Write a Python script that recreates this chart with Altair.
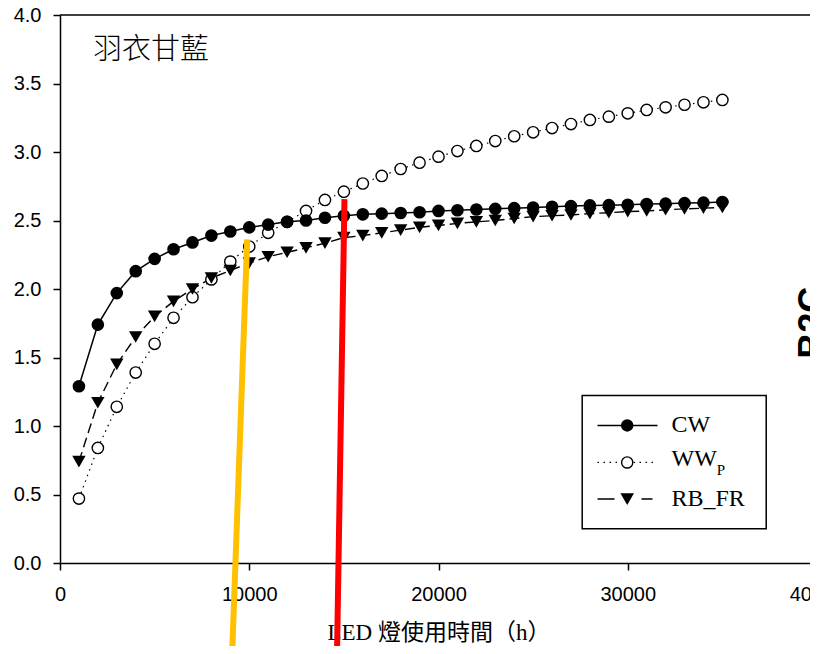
import altair as alt
import pandas as pd

# ---- data ----
hours = [1000, 2000, 3000, 4000, 5000, 6000, 7000, 8000, 9000, 10000,
         11000, 12000, 13000, 14000, 15000, 16000, 17000, 18000, 19000, 20000,
         21000, 22000, 23000, 24000, 25000, 26000, 27000, 28000, 29000, 30000,
         31000, 32000, 33000, 34000, 35000]
cw = [1.29, 1.74, 1.97, 2.13, 2.22, 2.29, 2.34, 2.39, 2.42, 2.45,
      2.47, 2.49, 2.50, 2.52, 2.535, 2.545, 2.55, 2.555, 2.56, 2.57,
      2.575, 2.58, 2.585, 2.59, 2.595, 2.60, 2.605, 2.61, 2.612, 2.615,
      2.62, 2.623, 2.627, 2.63, 2.635]
ww_p = [0.47, 0.84, 1.14, 1.39, 1.60, 1.79, 1.94, 2.07, 2.20, 2.31,
        2.41, 2.49, 2.57, 2.65, 2.71, 2.77, 2.825, 2.876, 2.922, 2.966,
        3.007, 3.044, 3.08, 3.115, 3.144, 3.175, 3.204, 3.234, 3.258, 3.282,
        3.307, 3.326, 3.345, 3.363, 3.38]
rb_fr = [0.74, 1.17, 1.45, 1.65, 1.80, 1.91, 2.00, 2.08, 2.135, 2.19,
         2.235, 2.268, 2.30, 2.335, 2.375, 2.39, 2.41, 2.43, 2.45, 2.464,
         2.479, 2.49, 2.50, 2.515, 2.528, 2.535, 2.54, 2.55, 2.557, 2.565,
         2.57, 2.578, 2.585, 2.59, 2.595]

x_ticks = [0, 10000, 20000, 30000, 40000]
y_ticks = [0.0, 0.5, 1.0, 1.5, 2.0, 2.5, 3.0, 3.5, 4.0]
x_title = "LED 燈使用時間（h）"
panel_label = ["羽衣甘藍"]
panel_label_pos = [1750, 3.747]
side_text = ["B2C"]
side_text_pos = [38890, 1.49]

# hand-drawn annotation strokes (data units: start x, start y, end x, end y)
marker_lines = pd.DataFrame({
    "x": [9892, 15032], "y": [2.363, 2.656],
    "x2": [9096, 14637], "y2": [-0.664, -0.664],
    "c": ["yellow", "red"],
})

# legend (data units)
leg_box = pd.DataFrame({"x": [27593], "x2": [37316], "y": [1.223], "y2": [0.250]})
leg_rows_y = [1.004, 0.734, 0.467]
leg_line_x = [28402, 31572]
leg_rb_line_x = [28402, 31308]
leg_marker_x = 29971
leg_text_x = 32312
leg_labels = ["CW", "WW", "RB_FR"]
leg_text_y = [1.004, 0.758, 0.467]
leg_sub = ["P"]
leg_sub_pos = [34700, 0.681]

W, H = 757, 548
xs = alt.Scale(domain=[0, 40000], nice=False, zero=False)
ys = alt.Scale(domain=[0, 4], nice=False, zero=False)

x_axis = alt.Axis(values=x_ticks, format="d", title=x_title, labelPadding=14,
                  labelFlush=False, titleFont="Liberation Serif, Noto Sans CJK TC",
                  titleFontSize=23, titleFontWeight="normal", titleColor="black",
                  titleBaseline="alphabetic", titleY=76)
y_axis = alt.Axis(values=y_ticks, format=".1f", title=None, labelPadding=12,
                  labelFlush=False)


def X(f):
    return alt.X(f, type="quantitative", scale=xs, axis=x_axis)


def Y(f):
    return alt.Y(f, type="quantitative", scale=ys, axis=y_axis)


df = pd.DataFrame({"h": hours, "cw": cw, "ww": ww_p, "rb": rb_fr})
base = alt.Chart(df)

ww_line = base.mark_line(color="black", strokeWidth=1.2, strokeDash=[1.5, 4.5]).encode(x=X("h"), y=Y("ww"))
rb_line = base.mark_line(color="black", strokeWidth=1.4, strokeDash=[10, 5]).encode(x=X("h"), y=Y("rb"))
cw_line = base.mark_line(color="black", strokeWidth=1.5).encode(x=X("h"), y=Y("cw"))

ww_pts = base.mark_point(shape="circle", filled=True, fill="white", stroke="black",
                         strokeWidth=1.4, size=128, opacity=1).encode(x=X("h"), y=Y("ww"))
rb_pts = base.mark_point(shape="triangle-down", filled=True, color="black",
                         size=180, opacity=1).encode(x=X("h"), y=Y("rb"))
cw_pts = base.mark_point(shape="circle", filled=True, color="black",
                         size=160, opacity=1).encode(x=X("h"), y=Y("cw"))

top_border = alt.Chart(pd.DataFrame({"x": [0], "x2": [40000], "y": [4.0]})).mark_rule(
    color="black", strokeWidth=1.5).encode(x=X("x"), x2="x2", y=Y("y"))

title_txt = alt.Chart(pd.DataFrame({"x": [panel_label_pos[0]], "y": [panel_label_pos[1]], "t": panel_label})).mark_text(
    font="Noto Sans CJK TC", fontSize=29, fontWeight=300, align="left", baseline="middle", color="black"
).encode(x=X("x"), y=Y("y"), text="t")

side_txt = alt.Chart(pd.DataFrame({"x": [side_text_pos[0]], "y": [side_text_pos[1]], "t": side_text})).mark_text(
    font="Liberation Sans", fontSize=36, fontWeight="bold", align="left", baseline="top",
    angle=270, color="black"
).encode(x=X("x"), y=Y("y"), text="t")

ann = alt.Chart(marker_lines).mark_rule(strokeWidth=6, strokeCap="butt").encode(
    x=X("x"), y=Y("y"), x2="x2", y2="y2",
    color=alt.Color("c:N", scale=alt.Scale(domain=["yellow", "red"], range=["#FFC000", "#FF0000"]), legend=None),
)

# legend
box = alt.Chart(leg_box).mark_rect(fill="white", stroke="black", strokeWidth=1.5).encode(
    x=X("x"), x2="x2", y=Y("y"), y2="y2")
lg_cw_line = alt.Chart(pd.DataFrame({"x": [leg_line_x[0]], "x2": [leg_line_x[1]], "y": [leg_rows_y[0]]})).mark_rule(
    color="black", strokeWidth=1.5).encode(x=X("x"), x2="x2", y=Y("y"))
lg_ww_line = alt.Chart(pd.DataFrame({"x": [leg_line_x[0]], "x2": [leg_line_x[1]], "y": [leg_rows_y[1]]})).mark_rule(
    color="black", strokeWidth=1.2, strokeDash=[1.5, 4.5]).encode(x=X("x"), x2="x2", y=Y("y"))
lg_rb_line = alt.Chart(pd.DataFrame({"x": [leg_rb_line_x[0]], "x2": [leg_rb_line_x[1]], "y": [leg_rows_y[2]]})).mark_rule(
    color="black", strokeWidth=1.5, strokeDash=[17, 27]).encode(x=X("x"), x2="x2", y=Y("y"))
lg_cw_pt = alt.Chart(pd.DataFrame({"x": [leg_marker_x], "y": [leg_rows_y[0]]})).mark_point(
    shape="circle", filled=True, color="black", size=155, opacity=1).encode(x=X("x"), y=Y("y"))
lg_ww_pt = alt.Chart(pd.DataFrame({"x": [leg_marker_x], "y": [leg_rows_y[1]]})).mark_point(
    shape="circle", filled=True, fill="white", stroke="black", strokeWidth=1.4, size=125, opacity=1).encode(x=X("x"), y=Y("y"))
lg_rb_pt = alt.Chart(pd.DataFrame({"x": [leg_marker_x], "y": [leg_rows_y[2]]})).mark_point(
    shape="triangle-down", filled=True, color="black", size=185, opacity=1).encode(x=X("x"), y=Y("y"))
lg_txt = alt.Chart(pd.DataFrame({"x": [leg_text_x] * 3, "y": leg_text_y, "t": leg_labels})).mark_text(
    font="Liberation Serif", fontSize=24, align="left", baseline="middle", color="black"
).encode(x=X("x"), y=Y("y"), text="t")
lg_sub = alt.Chart(pd.DataFrame({"x": [leg_sub_pos[0]], "y": [leg_sub_pos[1]], "t": leg_sub})).mark_text(
    font="Liberation Serif", fontSize=15, align="left", baseline="middle", color="black"
).encode(x=X("x"), y=Y("y"), text="t")

chart = alt.layer(
    top_border, ww_line, rb_line, cw_line, ww_pts, rb_pts, cw_pts,
    title_txt, side_txt, box, lg_cw_line, lg_ww_line, lg_rb_line,
    lg_cw_pt, lg_ww_pt, lg_rb_pt, lg_txt, lg_sub, ann,
).properties(
    width=W, height=H,
    padding={"left": 52, "top": 7, "right": -7, "bottom": 83},
    autosize=alt.AutoSizeParams(type="none"),
).configure_view(stroke=None).configure_axis(
    domainColor="black", domainWidth=1.5, tickColor="black", tickWidth=1.5,
    tickSize=7, labelColor="black", labelFont="Liberation Sans", labelFontSize=20,
    grid=False,
)

chart.save("out.html", embed_options={"renderer": "svg", "actions": False})
